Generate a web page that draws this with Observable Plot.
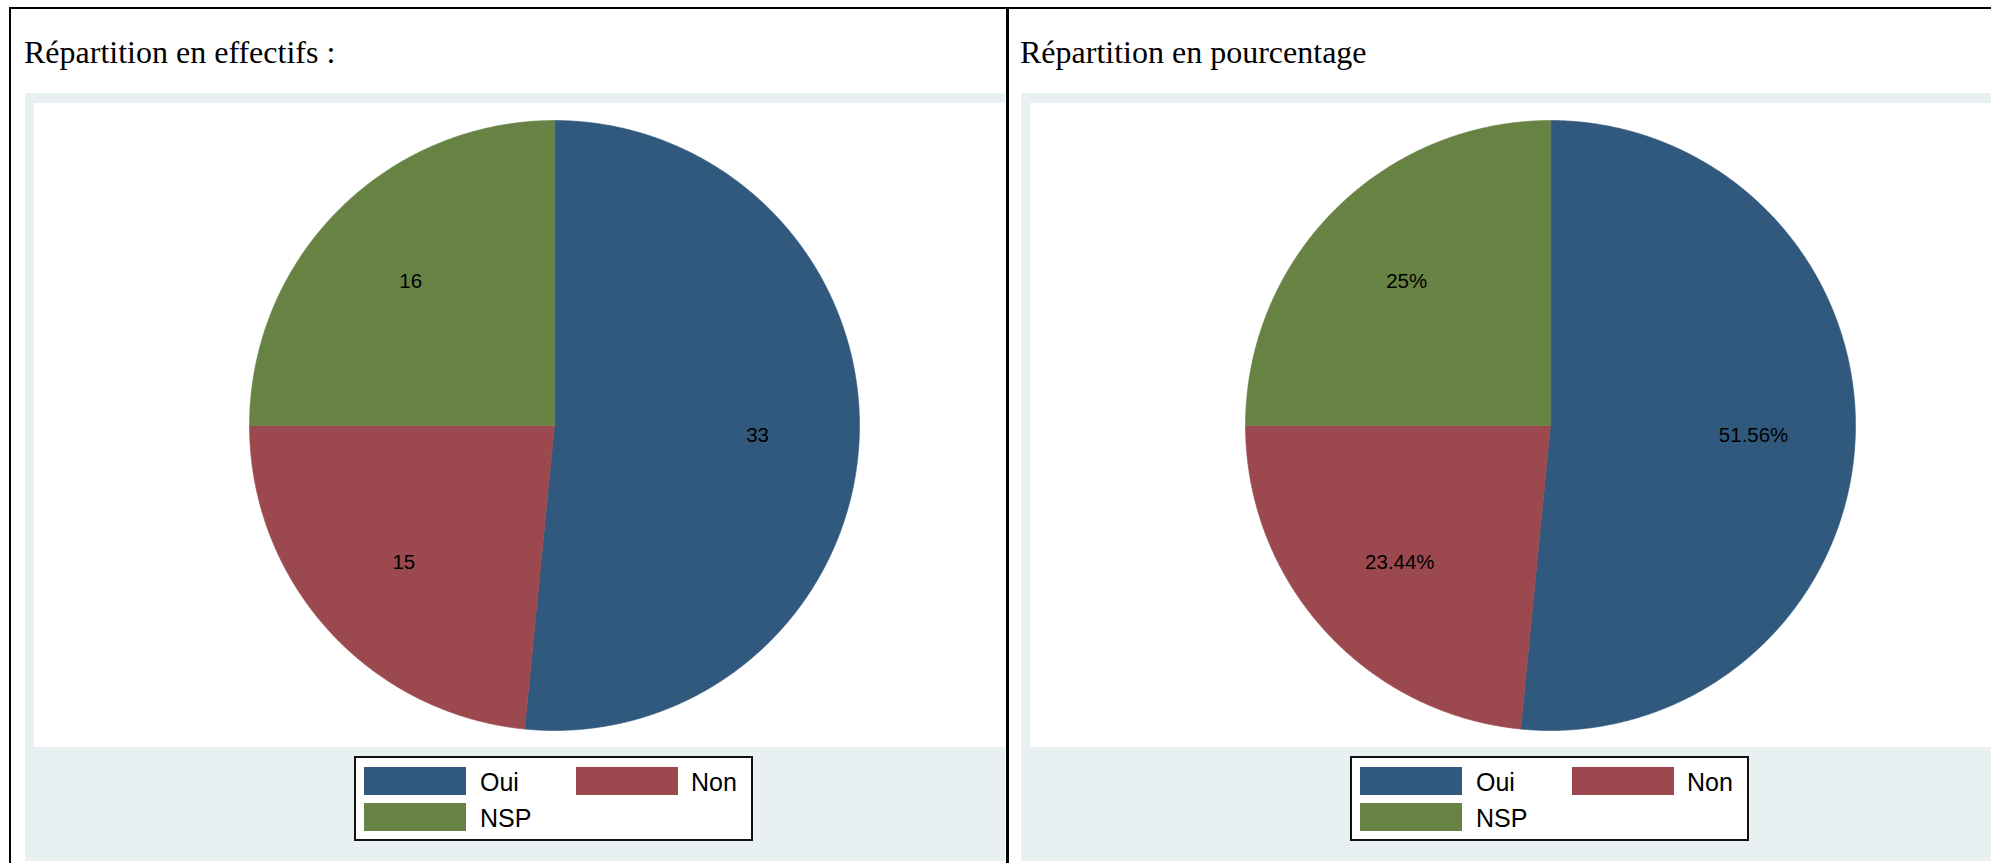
<!DOCTYPE html>
<html>
<head>
<meta charset="utf-8">
<script src="https://cdn.jsdelivr.net/npm/d3@7"></script>
<script src="https://cdn.jsdelivr.net/npm/@observablehq/plot@0.6"></script>
<style>
html, body { margin: 0; padding: 0; background: #fff; }
#page { position: relative; width: 1991px; height: 863px; overflow: hidden; background: #fff; }
.abs { position: absolute; }
.rule { position: absolute; background: #000; }
.title { position: absolute; font-family: "Liberation Serif", "Times New Roman", serif; font-size: 32px; line-height: 1; color: #000; white-space: nowrap; }
.gray { position: absolute; background: #e9f0f2; }
.white { position: absolute; background: #fff; }
.legend { position: absolute; background: #fff; border: 2px solid #111; box-sizing: border-box; }
.sw { position: absolute; }
.lt { position: absolute; font-family: "Liberation Sans", Arial, sans-serif; font-size: 25px; line-height: 1; color: #000; white-space: nowrap; }
</style>
</head>
<body>
<div id="page"></div>
<script>
// ---- data ----
const categories = ["Oui", "Non", "NSP"];
const counts = [33, 15, 16];
const percents = [51.56, 23.44, 25];
const colors = ["#31597d", "#9b494f", "#668344"];
const titles = ["Répartition en effectifs :", "Répartition en pourcentage"];
const countLabels = counts.map(String);
const percentLabels = percents.map(v => v + "%");

const page = document.getElementById("page");
function box(cls, l, t, w, h, extra) {
  const d = document.createElement("div");
  d.className = cls;
  d.style.left = l + "px";
  d.style.top = t + "px";
  if (w != null) d.style.width = w + "px";
  if (h != null) d.style.height = h + "px";
  Object.assign(d.style, extra || {});
  page.appendChild(d);
  return d;
}

function pieChart(values, labels) {
  const arcs = d3.pie().sort(null).value(d => d)(values);
  const pts = [];
  arcs.forEach((a, i) => {
    const cat = categories[i];
    pts.push({cat, x: 0, y: 0});
    const n = Math.max(2, Math.ceil((a.endAngle - a.startAngle) / (Math.PI / 720)));
    for (let k = 0; k <= n; k++) {
      const t = a.startAngle + (a.endAngle - a.startAngle) * k / n;
      pts.push({cat, x: Math.sin(t), y: Math.cos(t)});
    }
  });
  const lab = arcs.map((a, i) => {
    const m = (a.startAngle + a.endAngle) / 2;
    return {x: 2 / 3 * Math.sin(m), y: 2 / 3 * Math.cos(m), text: labels[i]};
  });
  return Plot.plot({
    width: 620, height: 620, margin: 5,
    x: {domain: [-1, 1], axis: null},
    y: {domain: [-1, 1], axis: null},
    color: {domain: categories, range: colors},
    style: {background: "transparent", overflow: "visible"},
    marks: [
      Plot.line(pts, {x: "x", y: "y", z: "cat", fill: "cat", stroke: "cat", strokeWidth: 0.6, curve: "linear-closed"}),
      Plot.text(lab, {x: "x", y: "y", text: "text", fill: "black", fontSize: 20.5, fontFamily: "Liberation Sans, Arial, sans-serif"})
    ]
  });
}

const panelOffsets = [0, 996];
const panelLabels = [countLabels, percentLabels];

panelOffsets.forEach((dx, p) => {
  const right = p === 0 ? 1005 : 1991;
  box("gray", 25 + dx, 93, right - (25 + dx), 861 - 93);
  box("white", 34 + dx, 103, right - (34 + dx), 747 - 103);
  const t = box("title", 24 + dx, 36);
  t.textContent = titles[p];
  const holder = box("abs", 243.7 + dx, 114.7, 620, 620);
  holder.appendChild(pieChart(counts, panelLabels[p]));
  box("legend", 354 + dx, 756, 399, 85);
  const swPos = [[364, 767], [576, 767], [364, 803]];
  const txPos = [[480, 769.5], [691, 769.5], [480, 806.1]];
  categories.forEach((c, i) => {
    box("sw", swPos[i][0] + dx, swPos[i][1], 102, 27.5, {background: colors[i]});
    const l = box("lt", txPos[i][0] + dx, txPos[i][1]);
    l.textContent = c;
  });
});

// frame rules
box("rule", 9, 7, 1991 - 9, 2);
box("rule", 9, 7, 2, 863 - 7);
box("rule", 1006, 7, 2.6, 863 - 7);
</script>
</body>
</html>
